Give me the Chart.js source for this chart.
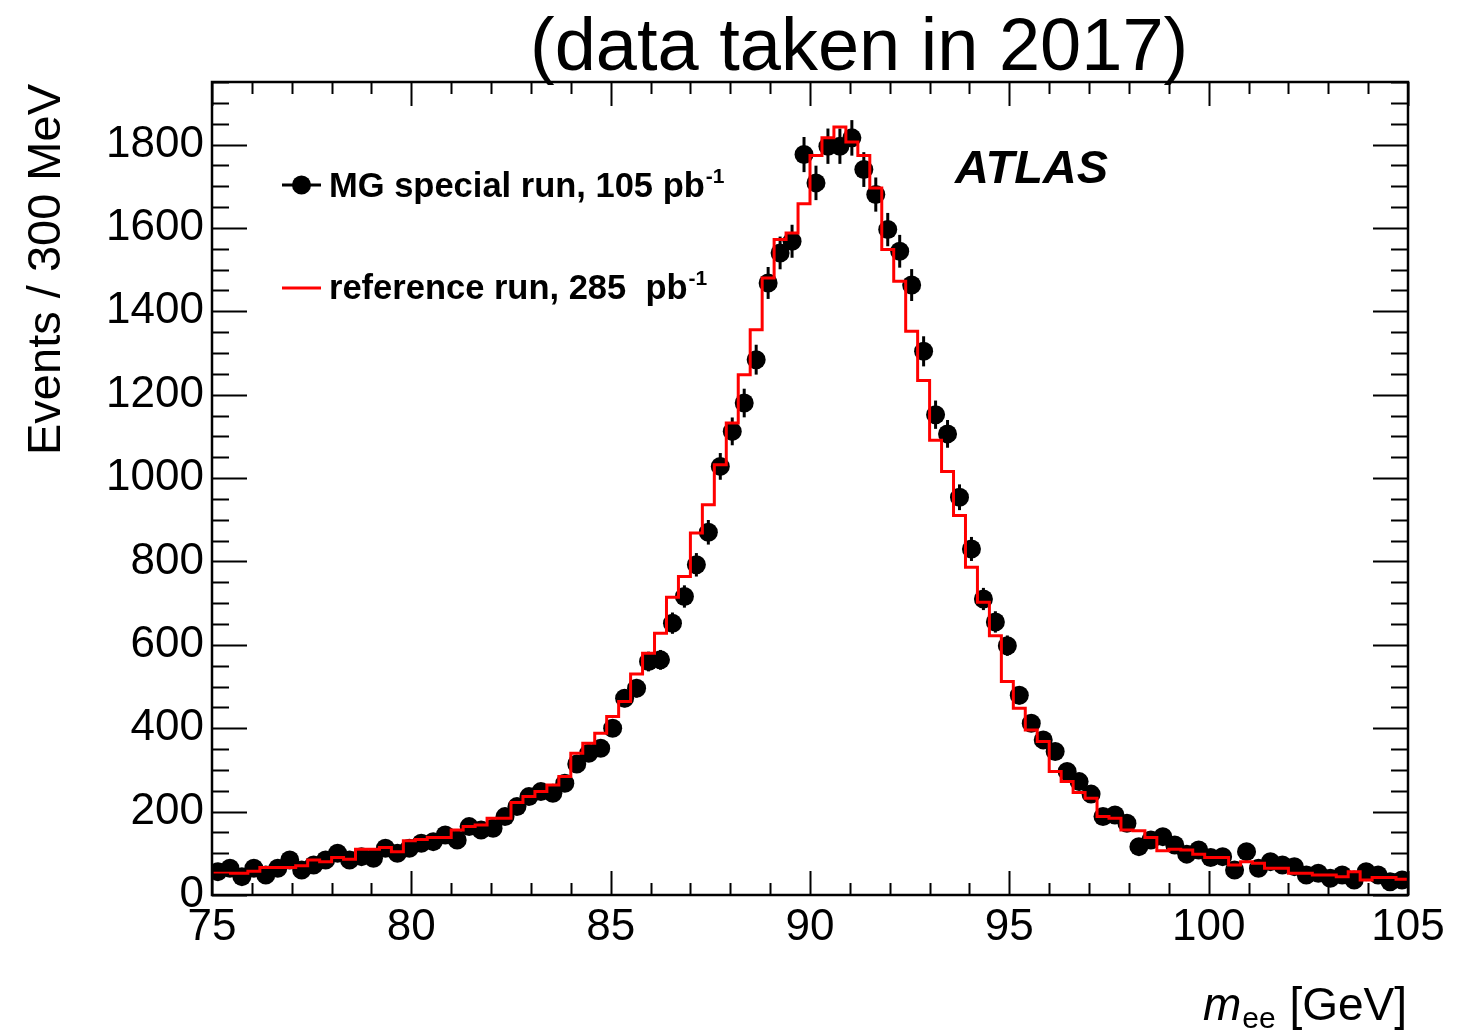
<!DOCTYPE html>
<html>
<head>
<meta charset="utf-8">
<title>m_ee, data taken in 2017</title>
<script src="https://cdn.jsdelivr.net/npm/chart.js@4.4.1/dist/chart.umd.min.js"></script>
<style>
    html, body { margin: 0; padding: 0; background: #ffffff; }
    #wrap { width: 1479px; height: 1033px; position: relative; }
</style>
</head>
<body>
<div id="wrap"><canvas id="mee-chart" width="1479" height="1033"></canvas></div>
<script>
const BIN_LOW = 75;
const BIN_WIDTH = 0.3;

// MG special run, events per 0.3 GeV bin (75 - 105 GeV)
const MG_COUNTS = [
    56, 64, 44, 64, 48, 64, 84, 60, 72, 84,
    100, 84, 92, 88, 112, 100, 112, 124, 128, 144,
    132, 164, 156, 160, 188, 212, 236, 248, 244, 268,
    314, 340, 352, 400, 472, 496, 560, 564, 652, 716,
    792, 870, 1028, 1112, 1180, 1284, 1468, 1540, 1568, 1776,
    1708, 1796, 1796, 1816, 1740, 1680, 1596, 1544, 1463, 1304,
    1152, 1106, 954, 830, 710, 655, 598, 479, 412, 372,
    344, 296, 272, 242, 188, 192, 172, 116, 132, 140,
    120, 98, 108, 90, 92, 60, 104, 64, 80, 72,
    68, 48, 52, 40, 48, 36, 56, 48, 32, 36
];

// reference run, normalised histogram
const REF_COUNTS = [
    52, 52, 52, 57, 66, 66, 66, 70, 84, 80,
    90, 86, 110, 110, 114, 104, 130, 133, 138, 138,
    156, 164, 168, 184, 184, 222, 236, 248, 264, 284,
    340, 364, 388, 428, 464, 530, 580, 628, 714, 764,
    868, 936, 1032, 1132, 1248, 1356, 1480, 1572, 1588, 1658,
    1774, 1816, 1842, 1806, 1774, 1696, 1548, 1472, 1352, 1234,
    1091, 1016, 910, 786, 702, 622, 512, 448, 396, 368,
    296, 272, 246, 232, 188, 184, 156, 154, 138, 106,
    110, 108, 98, 90, 90, 72, 80, 76, 64, 64,
    52, 52, 48, 48, 44, 56, 36, 42, 42, 38
];

const X_TICKS = [75, 80, 85, 90, 95, 100, 105];
const Y_TICKS = [0, 200, 400, 600, 800, 1000, 1200, 1400, 1600, 1800];
const X_MINOR_STEP = 1;
const Y_MINOR_STEP = 50;

const FONT = '"Liberation Sans", Arial, Helvetica, sans-serif';

const mgPoints = MG_COUNTS.map((v, i) => ({ x: BIN_LOW + BIN_WIDTH * (i + 0.5), y: v }));
const refSteps = REF_COUNTS.map((v, i) => ({ x: BIN_LOW + BIN_WIDTH * i, y: v }));
refSteps.push({ x: BIN_LOW + BIN_WIDTH * REF_COUNTS.length, y: REF_COUNTS[REF_COUNTS.length - 1] });

// Poisson error bars under the markers
const errorBars = {
    id: 'errorBars',
    beforeDatasetsDraw(chart) {
        const { ctx, chartArea, scales } = chart;
        ctx.save();
        ctx.beginPath();
        ctx.rect(chartArea.left, chartArea.top, chartArea.right - chartArea.left, chartArea.bottom - chartArea.top);
        ctx.clip();
        ctx.strokeStyle = '#000000';
        ctx.lineWidth = 3;
        mgPoints.forEach((p) => {
            const err = Math.sqrt(p.y);
            const x = scales.x.getPixelForValue(p.x);
            ctx.beginPath();
            ctx.moveTo(x, scales.y.getPixelForValue(p.y - err));
            ctx.lineTo(x, scales.y.getPixelForValue(p.y + err));
            ctx.stroke();
        });
        ctx.restore();
    }
};

function drawTicks(ctx, area, scales) {
    ctx.strokeStyle = '#000000';
    ctx.lineWidth = 2;
    ctx.beginPath();
    for (let v = X_TICKS[0]; v <= X_TICKS[X_TICKS.length - 1] + 1e-9; v += X_MINOR_STEP) {
        const x = Math.round(scales.x.getPixelForValue(v)) + 0.5;
        const len = X_TICKS.includes(Math.round(v)) ? 24 : 12;
        ctx.moveTo(x, area.bottom);
        ctx.lineTo(x, area.bottom - len);
        ctx.moveTo(x, area.top);
        ctx.lineTo(x, area.top + len);
    }
    for (let v = 0; v <= scales.y.max; v += Y_MINOR_STEP) {
        const y = Math.round(scales.y.getPixelForValue(v)) + 0.5;
        const len = Y_TICKS.includes(v) ? 35 : 17;
        ctx.moveTo(area.left, y);
        ctx.lineTo(area.left + len, y);
        ctx.moveTo(area.right, y);
        ctx.lineTo(area.right - len, y);
    }
    ctx.stroke();

    ctx.lineWidth = 2.5;
    ctx.strokeRect(area.left, area.top, area.right - area.left, area.bottom - area.top);
}

function drawWithSup(ctx, text, sup, x, y, size, supSize, supRise) {
    ctx.font = `bold ${size}px ${FONT}`;
    ctx.fillText(text, x, y);
    const w = ctx.measureText(text).width;
    ctx.font = `bold ${supSize}px ${FONT}`;
    ctx.fillText(sup, x + w + 1, y - supRise);
}

const frameAndLabels = {
    id: 'frameAndLabels',
    afterDraw(chart) {
        const { ctx, chartArea, scales } = chart;
        ctx.save();
        drawTicks(ctx, chartArea, scales);

        ctx.fillStyle = '#000000';
        ctx.textBaseline = 'alphabetic';
        ctx.textAlign = 'left';

        // title
        ctx.font = `74px ${FONT}`;
        ctx.fillText('(data taken in 2017)', 530, 70);

        // ATLAS label
        ctx.font = `italic bold 47px ${FONT}`;
        ctx.fillText('ATLAS', 955, 183);

        // legend
        ctx.strokeStyle = '#000000';
        ctx.lineWidth = 3;
        ctx.beginPath();
        ctx.moveTo(282, 185);
        ctx.lineTo(321, 185);
        ctx.stroke();
        ctx.beginPath();
        ctx.arc(301.5, 185, 9.5, 0, Math.PI * 2);
        ctx.fill();
        drawWithSup(ctx, 'MG special run, 105 pb', '-1', 329, 197, 34.5, 21, 14);

        ctx.strokeStyle = '#ff0000';
        ctx.beginPath();
        ctx.moveTo(282, 288);
        ctx.lineTo(321, 288);
        ctx.stroke();
        drawWithSup(ctx, 'reference run, 285  pb', '-1', 329, 299, 34.5, 21, 14);

        // y axis title
        ctx.save();
        ctx.translate(60, 84);
        ctx.rotate(-Math.PI / 2);
        ctx.textAlign = 'right';
        ctx.font = `47px ${FONT}`;
        ctx.fillText('Events / 300 MeV', 0, 0);
        ctx.restore();

        // x axis title: m_ee [GeV]
        const mainFont = `46px ${FONT}`;
        const italicFont = `italic 46px ${FONT}`;
        const subFont = `30px ${FONT}`;
        ctx.font = italicFont;
        const wm = ctx.measureText('m').width;
        ctx.font = subFont;
        const we = ctx.measureText('ee').width;
        ctx.font = mainFont;
        const wg = ctx.measureText(' [GeV]').width;
        let x = 1407 - (wm + we + 2 + wg);
        ctx.font = italicFont;
        ctx.fillText('m', x, 1020);
        x += wm + 1;
        ctx.font = subFont;
        ctx.fillText('ee', x, 1028);
        x += we + 1;
        ctx.font = mainFont;
        ctx.fillText(' [GeV]', x, 1020);

        ctx.restore();
    }
};

function renderChart() {
    const ctx = document.getElementById('mee-chart').getContext('2d');

    return new Chart(ctx, {
        type: 'scatter',
        data: {
            datasets: [
                {
                    type: 'line',
                    label: 'reference run, 285  pb-1',
                    data: refSteps,
                    stepped: 'before',
                    borderColor: '#ff0000',
                    borderWidth: 3,
                    pointRadius: 0,
                    fill: false,
                    order: 0
                },
                {
                    type: 'scatter',
                    label: 'MG special run, 105 pb-1',
                    data: mgPoints,
                    backgroundColor: '#000000',
                    borderWidth: 0,
                    pointRadius: 9.5,
                    pointHoverRadius: 9.5,
                    order: 1
                }
            ]
        },
        options: {
            responsive: false,
            animation: false,
            layout: {
                padding: { top: 82, right: 71, left: 0, bottom: 0 }
            },
            plugins: {
                legend: { display: false },
                title: { display: false },
                tooltip: { enabled: false }
            },
            scales: {
                x: {
                    type: 'linear',
                    min: 75,
                    max: 105,
                    afterBuildTicks: (scale) => {
                        scale.ticks = X_TICKS.map((value) => ({ value }));
                    },
                    afterFit: (scale) => {
                        scale.height = 138;
                    },
                    grid: { display: false, drawTicks: false },
                    border: { display: false },
                    ticks: {
                        color: '#000000',
                        padding: 6,
                        maxRotation: 0,
                        autoSkip: false,
                        font: { family: FONT, size: 44 },
                        callback: (value) => String(value)
                    }
                },
                y: {
                    type: 'linear',
                    min: 0,
                    max: 1950,
                    afterBuildTicks: (scale) => {
                        scale.ticks = Y_TICKS.map((value) => ({ value }));
                    },
                    afterFit: (scale) => {
                        scale.width = 212;
                    },
                    grid: { display: false, drawTicks: false },
                    border: { display: false },
                    ticks: {
                        color: '#000000',
                        padding: 8,
                        autoSkip: false,
                        font: { family: FONT, size: 44 },
                        callback: (value) => String(value)
                    }
                }
            }
        },
        plugins: [errorBars, frameAndLabels]
    });
}

renderChart();
</script>
</body>
</html>
